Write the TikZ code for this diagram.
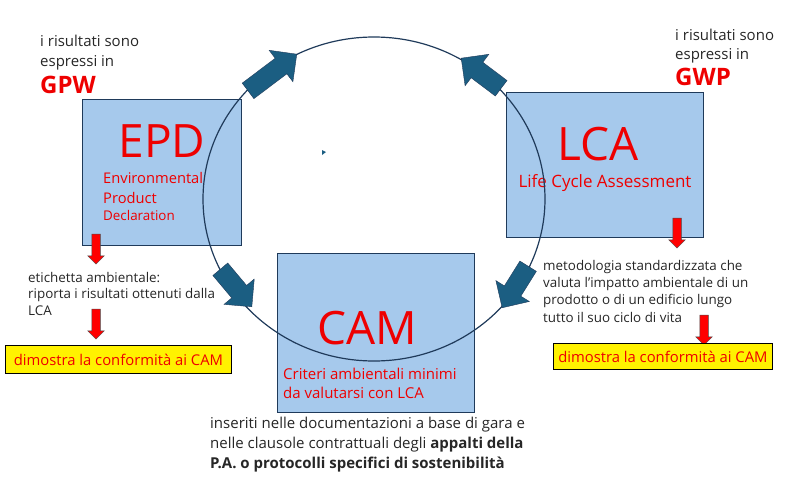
\documentclass[tikz,border=0pt]{standalone}
\usepackage{fontspec}
\setmainfont{Open Sans}
\usetikzlibrary{shapes.arrows}

\definecolor{boxblue}{HTML}{A6C9EC}
\definecolor{boxline}{HTML}{1F3A5A}
\definecolor{cyclecol}{HTML}{1B5E82}
\definecolor{textred}{HTML}{EE0000}
\definecolor{textgray}{HTML}{262626}

\tikzset{
  bluebox/.style={draw=boxline, fill=boxblue, line width=1pt, anchor=north west, inner sep=0},
  bigtitle/.style={text=textred, font=\fontsize{46}{46}\selectfont, anchor=base, inner sep=0},
  redtext/.style={text=textred, font=\fontsize{14.7}{14.7}\selectfont, anchor=base west, inner sep=0},
  note/.style={text=textgray, font=\fontsize{13.4}{13.4}\selectfont, anchor=base west, inner sep=0},
  unitname/.style={text=textred, font=\bfseries\fontsize{24}{24}\selectfont, anchor=base west, inner sep=0},
  camlabel/.style={draw=black, fill=yellow, line width=0.8pt, text=textred,
    font=\fontsize{14.8}{14.8}\selectfont, inner sep=0, anchor=north west},
  cyclearrow/.style={single arrow, fill=cyclecol, draw=boxline, line width=0.4pt,
    inner xsep=0, inner ysep=9.5pt, single arrow head extend=10pt, anchor=tip},
  downarrow/.style={single arrow, fill=red, draw=black!70, line width=0.5pt,
    inner xsep=0, inner ysep=4pt, single arrow head extend=4pt, minimum height=30pt, rotate=-90}
}

\begin{document}
\begin{tikzpicture}[x=1pt, y=-1pt]
  \useasboundingbox (0,0) rectangle (787,490);

  % the three boxes
  \node[bluebox, minimum width=159, minimum height=146] (epd) at (82,99) {};
  \node[bluebox, minimum width=197, minimum height=145] (lca) at (506,92) {};
  \node[bluebox, minimum width=197, minimum height=159] (cam) at (277,253) {};

  \node[bigtitle] (epdtitle) at (162,157) {EPD};
  \node[redtext] (epdl1) at (103,183) {Environmental};
  \node[redtext] (epdl2) at (103,203) {Product};
  \node[redtext, font=\fontsize{13.4}{13.4}\selectfont] (epdl3) at (103,220) {Declaration};

  \node[bigtitle] (lcatitle) at (598,160) {LCA};
  \node[redtext, anchor=base, font=\fontsize{17}{17}\selectfont] (lcal1) at (605,187) {Life Cycle Assessment};

  \node[bigtitle] (camtitle) at (367,344) {CAM};
  \node[redtext, font=\fontsize{15}{15}\selectfont] (caml1) at (283,379) {Criteri ambientali minimi};
  \node[redtext, font=\fontsize{15}{15}\selectfont] (caml2) at (283,398) {da valutarsi con LCA};

  % cycle
  \draw[boxline, line width=1.2pt] (374,199) ellipse [x radius=171, y radius=162];
  \node[cyclearrow, minimum height=61pt, rotate=37] (arrowul) at (297,54) {};
  \node[cyclearrow, minimum height=50pt, rotate=143] (arrowur) at (461,58) {};
  \node[cyclearrow, minimum height=49pt, rotate=-50] (arrowll) at (252,307) {};
  \node[cyclearrow, minimum height=49pt, rotate=-122] (arrowlr) at (502,308) {};
  \fill[cyclecol] (322,150) -- (326,152) -- (322,155) -- cycle;

  % left side
  \node[note, font=\fontsize{15}{15}\selectfont] (leftr1) at (40,46) {i risultati sono};
  \node[note, font=\fontsize{15}{15}\selectfont] (leftr2) at (40,66) {espressi in};
  \node[unitname] (gpw) at (40,93) {GPW};
  \node[downarrow] (epddown) at (96,247) {};
  \node[note] (etic1) at (28,282) {etichetta ambientale:};
  \node[note] (etic2) at (28,298) {riporta i risultati ottenuti dalla};
  \node[note] (etic3) at (28,315) {LCA};
  \node[downarrow] (eticdown) at (96,322) {};
  \node[camlabel, minimum width=226, minimum height=28] (confleft) at (5,345) {dimostra la conformità ai CAM};

  % right side
  \node[note, font=\fontsize{15}{15}\selectfont] (rightr1) at (675,40) {i risultati sono};
  \node[note, font=\fontsize{15}{15}\selectfont] (rightr2) at (675,59) {espressi in};
  \node[unitname] (gwp) at (675,85) {GWP};
  \node[downarrow] (lcadown) at (677,231) {};
  \node[note] (met1) at (543,270) {metodologia standardizzata che};
  \node[note] (met2) at (543,287) {valuta l’impatto ambientale di un};
  \node[note] (met3) at (543,304) {prodotto o di un edificio lungo};
  \node[note] (met4) at (543,322) {tutto il suo ciclo di vita};
  \node[downarrow] (metdown) at (704,328) {};
  \node[camlabel, minimum width=219, minimum height=26] (confright) at (553,343) {dimostra la conformità ai CAM};

  % below CAM
  \node[note, font=\fontsize{15}{15}\selectfont] (ins1) at (210,428) {inseriti nelle documentazioni a base di gara e};
  \node[note, font=\fontsize{15}{15}\selectfont] (ins2) at (210,448) {nelle clausole contrattuali degli \textbf{appalti della}};
  \node[note, font=\bfseries\fontsize{15}{15}\selectfont] (ins3) at (210,468) {P.A. o protocolli specifici di sostenibilità};
\end{tikzpicture}
\end{document}
